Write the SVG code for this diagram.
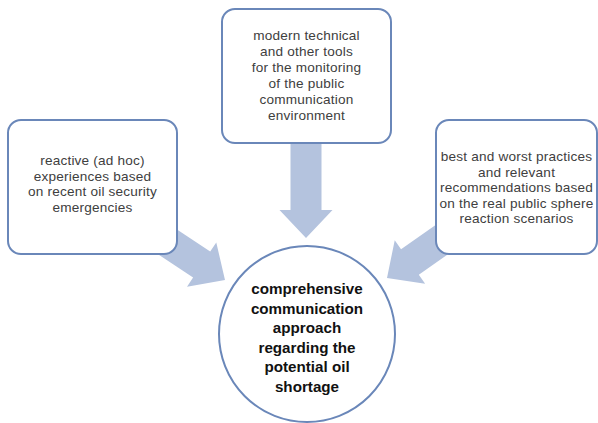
<svg xmlns="http://www.w3.org/2000/svg" width="598" height="423" viewBox="0 0 598 423">
<style>
.box{fill:#ffffff;stroke:#6a87b9;stroke-width:2}
.arrow{fill:#b4c3de}
.t{font-family:"Liberation Sans",Arial,sans-serif;font-size:13.6px;letter-spacing:0.2px;fill:#404040;text-anchor:middle}
.c{font-family:"Liberation Sans",Arial,sans-serif;font-size:15.2px;font-weight:bold;fill:#111111;text-anchor:middle}
</style>
<defs>
<path id="arr" d="M0,0 L-28,-26.5 L-28,-15.5 L-105,-15.5 L-105,15.5 L-28,15.5 L-28,26.5 Z"/>
</defs>
<rect width="598" height="423" fill="#ffffff"/>
<g id="connectors">
<use href="#arr" class="arrow" transform="translate(306,238) rotate(90)"/>
<use href="#arr" class="arrow" transform="translate(225,280) rotate(33.5)"/>
<use href="#arr" class="arrow" transform="translate(387,278) rotate(145)"/>
</g>
<g id="left">
<rect class="box" x="8" y="120" width="169" height="134" rx="13"/>
<text class="t"><tspan x="92.5" y="165">reactive (ad hoc)</tspan><tspan x="92.5" y="180.5">experiences based</tspan><tspan x="92.5" y="196">on recent oil security</tspan><tspan x="92.5" y="211.5">emergencies</tspan></text>
</g>
<g id="top">
<rect class="box" x="222" y="9" width="169" height="134" rx="13"/>
<text class="t"><tspan x="306.5" y="40">modern technical</tspan><tspan x="306.5" y="56">and other tools</tspan><tspan x="306.5" y="72">for the monitoring</tspan><tspan x="306.5" y="88">of the public</tspan><tspan x="306.5" y="104">communication</tspan><tspan x="306.5" y="120">environment</tspan></text>
</g>
<g id="right">
<rect class="box" x="436" y="120" width="161" height="134" rx="13"/>
<text class="t"><tspan x="516.5" y="161">best and worst practices</tspan><tspan x="516.5" y="176.5">and relevant</tspan><tspan x="516.5" y="192">recommendations based</tspan><tspan x="516.5" y="207.5">on the real public sphere</tspan><tspan x="516.5" y="223">reaction scenarios</tspan></text>
</g>
<g id="center">
<circle cx="307" cy="334" r="88" fill="#ffffff" stroke="#6a87b9" stroke-width="2"/>
<text class="c"><tspan x="307" y="294">comprehensive</tspan><tspan x="307" y="313.5">communication</tspan><tspan x="307" y="333">approach</tspan><tspan x="307" y="352.5">regarding the</tspan><tspan x="307" y="372">potential oil</tspan><tspan x="307" y="391.5">shortage</tspan></text>
</g>
</svg>
